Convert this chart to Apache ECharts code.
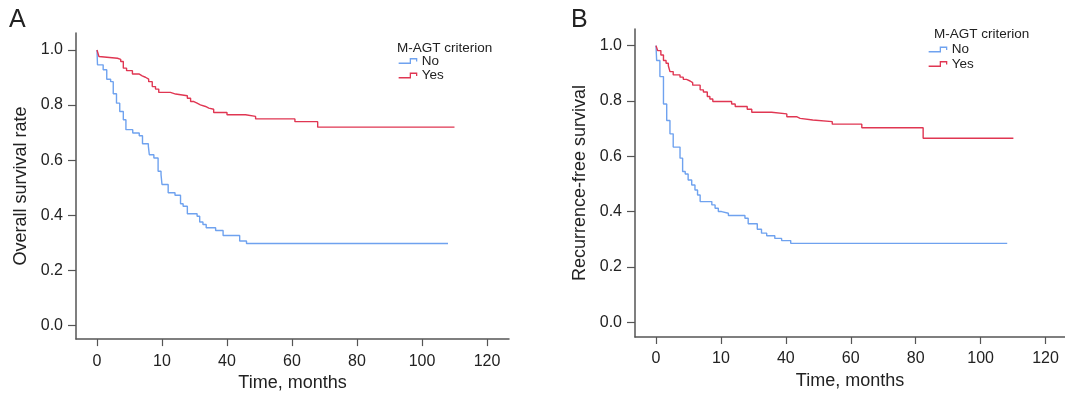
<!DOCTYPE html>
<html>
<head>
<meta charset="utf-8">
<script src="https://cdn.jsdelivr.net/npm/echarts@6/dist/echarts.min.js"></script>
<style>
  html, body { margin: 0; padding: 0; background: #fff; }
  #chart { width: 1065px; height: 397px; }
</style>
</head>
<body>
<div id="chart"></div>
<script>
// Tick positions and labels (the 20-month tick is labelled "10" in the source figure)
const xTicks = [0, 20, 40, 60, 80, 100, 120]
const xTickLabels = ['0', '10', '40', '60', '80', '100', '120']
const yTicks = [0, 0.2, 0.4, 0.6, 0.8, 1.0]

// Panel A - overall survival
const osNoTime = [0, 0.15, 1.9, 3.0, 4.2, 5.0, 6.0, 7.0, 8.1, 8.9, 11.0, 13.0, 14.0, 15.8, 16.1, 17.5, 18.8, 19.7, 20.0, 21.9, 24.0, 25.7, 26.5, 27.8, 30.8, 31.6, 32.6, 33.6, 36.5, 38.8, 43.9, 46.0, 108]
const osNoSurv = [1.0, 0.946, 0.928, 0.894, 0.885, 0.841, 0.807, 0.777, 0.747, 0.711, 0.699, 0.689, 0.660, 0.651, 0.620, 0.608, 0.560, 0.548, 0.512, 0.482, 0.473, 0.442, 0.433, 0.406, 0.397, 0.376, 0.367, 0.355, 0.345, 0.327, 0.307, 0.298, 0.298]
const osYesTime = [0, 0.6, 1.2, 6.3, 7.3, 8.1, 9.1, 10.9, 12.9, 13.9, 14.9, 15.9, 17.0, 18.0, 19.0, 22.6, 24.2, 27.8, 28.8, 29.8, 30.8, 31.8, 33.4, 34.4, 35.9, 40.0, 45.7, 48.8, 60.9, 67.9, 110]
const osYesSurv = [1.0, 0.976, 0.970, 0.966, 0.958, 0.934, 0.925, 0.913, 0.906, 0.901, 0.894, 0.885, 0.867, 0.858, 0.846, 0.840, 0.834, 0.825, 0.813, 0.807, 0.801, 0.795, 0.789, 0.785, 0.773, 0.765, 0.759, 0.750, 0.740, 0.720, 0.720]

// Panel B - recurrence-free survival
const rfsNoTime = [0, 0.2, 1.2, 2.3, 3.3, 4.3, 5.3, 7.4, 8.2, 9.0, 9.9, 11.0, 12.0, 12.8, 13.6, 17.2, 18.2, 19.2, 20.2, 22.3, 27.4, 28.4, 31.2, 32.5, 34.1, 36.6, 38.7, 41.5, 108.2]
const rfsNoSurv = [1.0, 0.946, 0.888, 0.789, 0.729, 0.681, 0.633, 0.593, 0.545, 0.536, 0.514, 0.496, 0.478, 0.460, 0.436, 0.424, 0.412, 0.400, 0.394, 0.386, 0.376, 0.356, 0.336, 0.322, 0.3125, 0.303, 0.295, 0.285, 0.285]
const rfsYesTime = [0, 0.5, 1.5, 2.3, 3.1, 3.8, 4.3, 5.3, 7.4, 8.4, 9.4, 10.5, 11.3, 13.6, 14.6, 15.8, 16.6, 17.5, 23.3, 24.4, 28.1, 29.5, 35.6, 40.3, 43.3, 44.4, 48.3, 54.3, 63.4, 82.3, 110.1]
const rfsYesSurv = [1.0, 0.982, 0.966, 0.946, 0.936, 0.927, 0.906, 0.894, 0.886, 0.878, 0.872, 0.866, 0.857, 0.840, 0.832, 0.816, 0.807, 0.798, 0.789, 0.780, 0.770, 0.759, 0.753, 0.743, 0.737, 0.731, 0.725, 0.716, 0.703, 0.665, 0.665]

const BLUE = '#6fa2ef'
const RED = '#e03652'
const AXIS = '#555555'
const TEXT = '#222222'
const FONT = '"Liberation Sans", Arial, sans-serif'

const zip = (xs, ys) => xs.map((x, i) => [x, ys[i]])

const makeX = (gridIndex, min, max) => ({
  type: 'value',
  gridIndex,
  min,
  max,
  name: 'Time, months',
  nameLocation: 'middle',
  nameGap: 33,
  nameTextStyle: { fontSize: 18, color: TEXT, fontFamily: FONT },
  axisLine: { onZero: false, lineStyle: { color: AXIS, width: 1.5 } },
  axisTick: { customValues: xTicks, length: 7, lineStyle: { color: AXIS, width: 1.2 } },
  axisLabel: {
    customValues: xTicks,
    margin: 14,
    fontSize: 16,
    color: TEXT,
    fontFamily: FONT,
    formatter: (v) => xTickLabels[xTicks.indexOf(v)]
  },
  splitLine: { show: false }
})

const makeY = (gridIndex, min, max, name) => ({
  type: 'value',
  gridIndex,
  min,
  max,
  name,
  nameLocation: 'middle',
  nameGap: 46,
  nameTextStyle: { fontSize: 18, color: TEXT, fontFamily: FONT },
  axisLine: { show: true, onZero: false, lineStyle: { color: AXIS, width: 1.5 } },
  axisTick: { show: true, customValues: yTicks, length: 8, lineStyle: { color: AXIS, width: 1.2 } },
  axisLabel: {
    customValues: yTicks,
    margin: 13,
    fontSize: 16,
    color: TEXT,
    fontFamily: FONT,
    formatter: (v) => v.toFixed(1)
  },
  splitLine: { show: false }
})

const kmSeries = (name, data, color, idx) => ({
  name,
  type: 'line',
  step: 'end',
  xAxisIndex: idx,
  yAxisIndex: idx,
  data,
  symbol: 'none',
  color,
  lineStyle: { color, width: 1.4 },
  animation: false
})

const stepIcon = 'path://M0,5 L13,5 L13,0 L20,0 L20,3'

const makeLegend = (left, top) => ({
  orient: 'vertical',
  left,
  top,
  padding: 0,
  itemGap: 0.5,
  itemWidth: 18,
  itemHeight: 6,
  icon: stepIcon,
  textStyle: { fontSize: 13.5, lineHeight: 11, color: TEXT, fontFamily: FONT },
  data: [
    { name: 'No', itemStyle: { color: 'transparent', borderColor: BLUE, borderWidth: 1.3 } },
    { name: 'Yes', itemStyle: { color: 'transparent', borderColor: RED, borderWidth: 1.3 } }
  ],
  selectedMode: false
})

const chart = echarts.init(document.getElementById('chart'))

chart.setOption({
  animation: false,
  title: [
    { text: 'A', left: 9, top: 8, padding: 0, textStyle: { fontSize: 25, fontWeight: 'normal', color: TEXT, fontFamily: FONT } },
    { text: 'B', left: 571, top: 8, padding: 0, textStyle: { fontSize: 25, fontWeight: 'normal', color: TEXT, fontFamily: FONT } },
    { text: 'M-AGT criterion', left: 397, top: 40.5, padding: 0, textStyle: { fontSize: 13.5, lineHeight: 15, fontWeight: 'normal', color: TEXT, fontFamily: FONT } },
    { text: 'M-AGT criterion', left: 934, top: 26.5, padding: 0, textStyle: { fontSize: 13.5, lineHeight: 15, fontWeight: 'normal', color: TEXT, fontFamily: FONT } }
  ],
  legend: [makeLegend(398, 54), makeLegend(928, 42.5)],
  grid: [
    { left: 76, top: 33, width: 433, height: 307 },
    { left: 635, top: 29, width: 430, height: 308 }
  ],
  xAxis: [makeX(0, -6.46, 126.77), makeX(1, -6.47, 126.0)],
  yAxis: [
    makeY(0, -0.0488, 1.0615, 'Overall survival rate'),
    makeY(1, -0.0535, 1.060, 'Recurrence-free survival')
  ],
  series: [
    kmSeries('No', zip(osNoTime, osNoSurv), BLUE, 0),
    kmSeries('Yes', zip(osYesTime, osYesSurv), RED, 0),
    kmSeries('No', zip(rfsNoTime, rfsNoSurv), BLUE, 1),
    kmSeries('Yes', zip(rfsYesTime, rfsYesSurv), RED, 1)
  ]
})

window.addEventListener('resize', () => chart.resize())
</script>
</body>
</html>
